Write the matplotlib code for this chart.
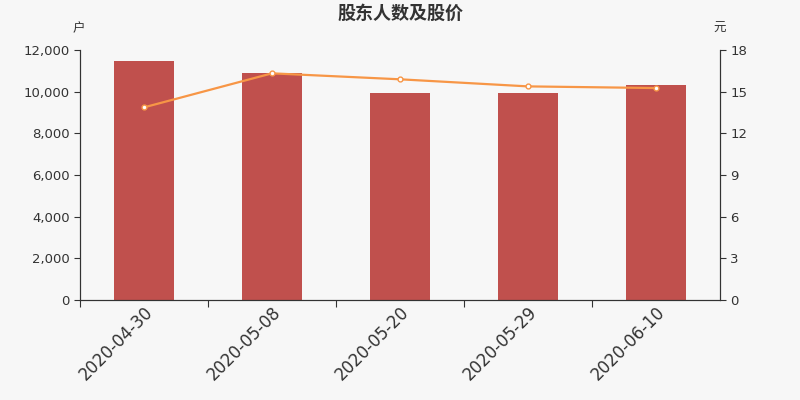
import matplotlib.pyplot as plt

plt.rcParams['font.family'] = ['DejaVu Sans', 'Noto Sans CJK SC']

dates = ["2020-04-30", "2020-05-08", "2020-05-20", "2020-05-29", "2020-06-10"]
holders = [11450, 10880, 9950, 9920, 10300]
price = [13.87, 16.32, 15.89, 15.38, 15.26]

bg = "#f7f7f7"
fig = plt.figure(figsize=(8, 4), dpi=100, facecolor=bg)
ax = fig.add_axes([0.1, 0.25, 0.8, 0.625], facecolor=bg)
ax2 = ax.twinx()

x = list(range(len(dates)))
ax.bar(x, holders, width=0.47, color="#c0504d", zorder=2)
ax2.plot(x, price, color="#f79646", lw=1.6, marker="o", ms=3.5,
         mfc="white", mec="#f79646", mew=1, zorder=3)

ax.set_xlim(-0.5, len(dates) - 0.5)
ax.set_ylim(0, 12000)
ax.set_yticks(range(0, 12001, 2000))
ax.set_yticklabels([f"{v:,}" for v in range(0, 12001, 2000)])
ax2.set_ylim(0, 18)
ax2.set_yticks(range(0, 19, 3))

ax.set_xticks([i - 0.5 for i in x], minor=False)
ax.set_xticklabels([])
ax.set_xticks(x, minor=True)
ax.set_xticklabels(dates, minor=True, rotation=45, ha="right",
                   rotation_mode="anchor", fontsize=12, color="#333333")
ax.tick_params(axis="x", which="minor", length=0, pad=2)
ax.tick_params(axis="x", which="major", length=5, color="#333333")

for a in (ax, ax2):
    a.tick_params(axis="y", labelsize=9.5, colors="#333333", length=4)
    a.spines["top"].set_visible(False)
    for s in ("left", "right", "bottom"):
        a.spines[s].set_color("#333333")

fig.text(0.5, 0.965, "股东人数及股价", ha="center", va="center",
         fontsize=13, fontweight="bold", color="#333333")
fig.text(0.098, 0.928, "户", ha="center", va="center", fontsize=9, color="#333333")
fig.text(0.9, 0.928, "元", ha="center", va="center", fontsize=9, color="#333333")

fig.savefig("out.png", dpi=100, facecolor=bg)
